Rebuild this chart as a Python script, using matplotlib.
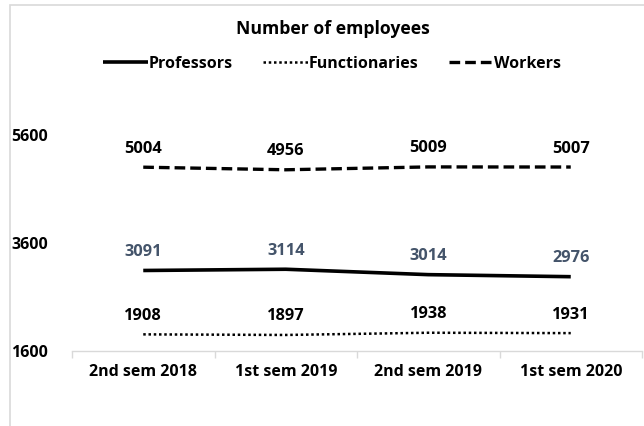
import matplotlib
matplotlib.use("Agg")
import matplotlib.pyplot as plt
from matplotlib.patches import Rectangle

categories = ["2nd sem 2018", "1st sem 2019", "2nd sem 2019", "1st sem 2020"]
professors = [3091, 3114, 3014, 2976]
functionaries = [1908, 1897, 1938, 1931]
workers = [5004, 4956, 5009, 5007]
yticks = [1600, 3600, 5600]

plt.rcParams['font.family'] = ['Open Sans', 'DejaVu Sans']
plt.rcParams['font.weight'] = 'bold'

W, H = 644, 426
fig = plt.figure(figsize=(W / 100, H / 100), dpi=100)
fig.patches.append(Rectangle((9.5 / W, -0.01), 1, 1 + 0.01 - 5 / H, transform=fig.transFigure,
                             fill=False, edgecolor='#D9D9D9', linewidth=1.2))
ax = fig.add_axes([72 / W, 75 / H, 570 / W, 216 / H])

x = list(range(len(categories)))
lp, = ax.plot(x, professors, color='black', linewidth=2.6, solid_capstyle='butt', label='Professors')
lf, = ax.plot(x, functionaries, color='black', linewidth=1.8, linestyle=(0, (1, 1.1)), label='Functionaries')
lw, = ax.plot(x, workers, color='black', linewidth=2.4, linestyle=(0, (3.2, 1.5)), dash_capstyle='butt', label='Workers')

label_kw = dict(xytext=(0, 13.3), textcoords='offset points', ha='center', va='center',
                fontsize=11.8, fontweight='bold')
for xi, v in zip(x, professors):
    ax.annotate(str(v), (xi, v), color='#44546A', **label_kw)
for xi, v in zip(x, functionaries):
    ax.annotate(str(v), (xi, v), color='black', **label_kw)
for xi, v in zip(x, workers):
    ax.annotate(str(v), (xi, v), color='black', **label_kw)

ax.set_xlim(-0.5, len(categories) - 0.5)
ax.set_ylim(1600, 5600)
ax.set_yticks(yticks)
ax.set_yticklabels([str(t) for t in yticks], fontsize=11.5, fontweight='bold')
ax.tick_params(axis='y', length=0, pad=17)
ax.set_xticks(x)
ax.set_xticklabels(categories, fontsize=11.5, fontweight='bold')
ax.tick_params(axis='x', which='major', length=0, pad=9)
ax.set_xticks([i - 0.5 for i in range(len(categories) + 1)], minor=True)
ax.tick_params(axis='x', which='minor', length=5, color='#D9D9D9', width=1)

for s in ['top', 'right', 'left']:
    ax.spines[s].set_visible(False)
ax.spines['bottom'].set_color('#D9D9D9')
ax.spines['bottom'].set_linewidth(1)

fig.text(333 / W, 1 - 29 / H, "Number of employees", ha='center', va='center',
         fontsize=12.7, fontweight='bold')
fig.legend(handles=[lp, lf, lw], loc='center', bbox_to_anchor=(332 / W, 1 - 64 / H),
           ncol=3, frameon=False, fontsize=11.5, handlelength=2.8, handletextpad=0.05,
           columnspacing=1.9)

fig.savefig("out.png", dpi=100)
